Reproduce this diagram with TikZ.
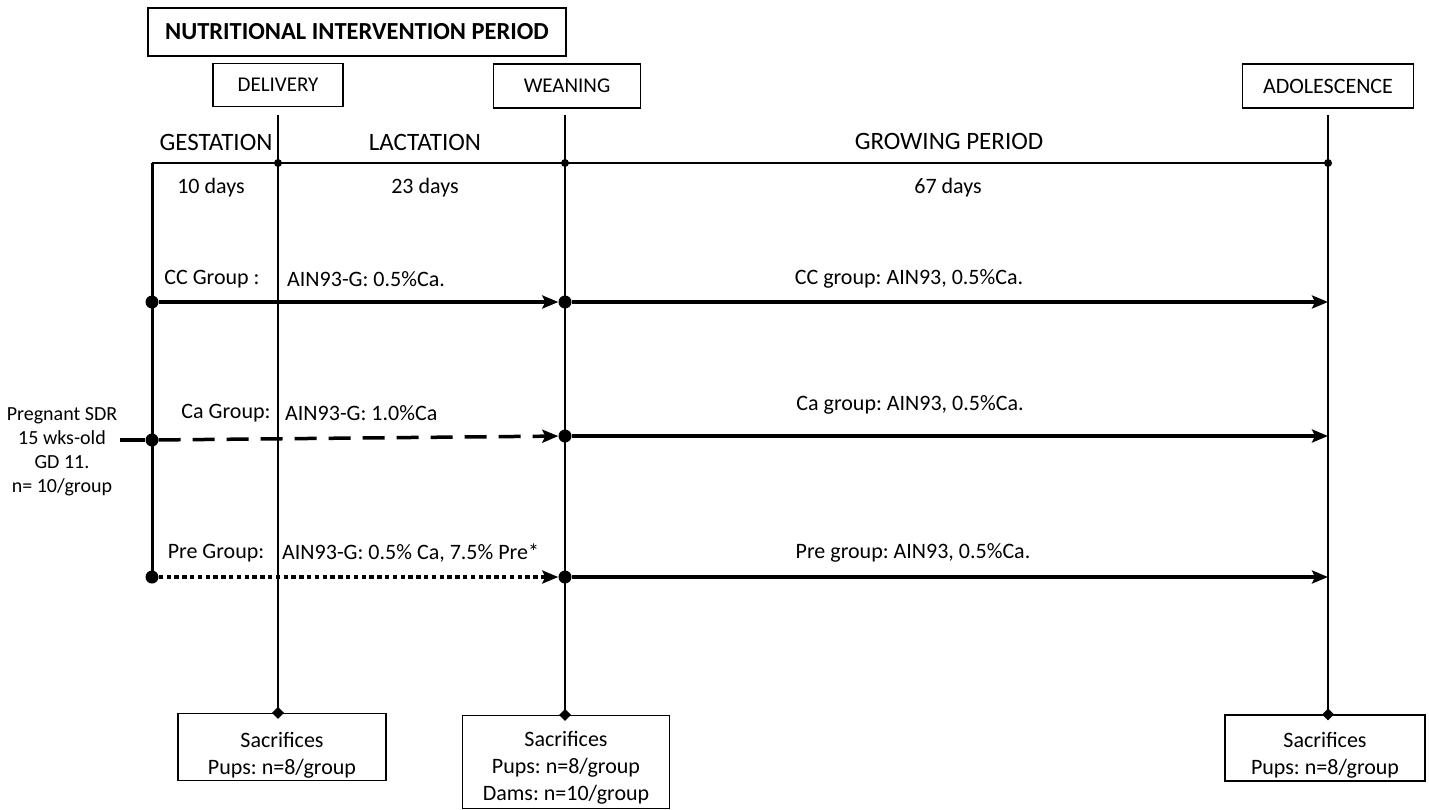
\documentclass[tikz,border=0pt]{standalone}
\usepackage{fontspec}
\setmainfont{Carlito}
\usetikzlibrary{arrows.meta,shapes.geometric}
\frenchspacing
\begin{document}
\begin{tikzpicture}[x=1pt,y=-1pt,
  txt/.style={font=\fontsize{22}{27}\selectfont, inner sep=0pt},
  period/.style={font=\fontsize{25}{28}\selectfont, inner sep=0pt},
  box/.style={draw, line width=1.2pt, font=\fontsize{22}{26.5}\selectfont, inner sep=0pt, align=center},
  vline/.style={line width=1.2pt},
  grp/.style={line width=3.5pt, -{Stealth[length=16pt,width=13pt,inset=3pt]}},
  bigdot/.style={circle, fill, inner sep=0pt, minimum size=13pt},
  smalldot/.style={circle, fill, inner sep=0pt, minimum size=8pt},
  dia/.style={diamond, fill, inner sep=0pt, minimum size=12pt}
]
\useasboundingbox (0,0) rectangle (1429,809);
% header boxes
\node[box, minimum width=418pt, minimum height=48pt, font=\fontsize{24.5}{26}\selectfont\bfseries] (title) at (357,32) {NUTRITIONAL INTERVENTION PERIOD};
\node[box, minimum width=130pt, minimum height=43pt, font=\fontsize{21}{26}\selectfont] (deliv) at (278,85) {DELIVERY};
\node[box, minimum width=147pt, minimum height=44pt, font=\fontsize{21}{26}\selectfont] (wean) at (567,86) {WEANING};
\node[box, minimum width=171pt, minimum height=44pt] (adol) at (1328,86) {ADOLESCENCE};
% bottom boxes
\node[box, minimum width=208pt, minimum height=67pt] (sac1) at (282,747) {};
\node[txt, align=center] (sac1t) at (282,755) {Sacrifices\\Pups: n=8/group};
\node[box, minimum width=207pt, minimum height=93pt] (sac2) at (566,762) {};
\node[txt, align=center] (sac2t) at (566,768) {Sacrifices\\Pups: n=8/group\\Dams: n=10/group};
\node[box, minimum width=200pt, minimum height=66pt] (sac3) at (1325,748) {};
\node[txt, align=center] (sac3t) at (1325,755) {Sacrifices\\Pups: n=8/group};
% coordinates
\coordinate (dtop) at (278,115);
\coordinate (wtop) at (565,115);
\coordinate (atop) at (1328,115);
\coordinate (t0) at (152,163);
\coordinate (t1) at (278,163);
\coordinate (t2) at (565,163);
\coordinate (t3) at (1328,163);
\coordinate (lbot) at (152,578);
% vertical lines
\draw[vline] (dtop) -- (dtop |- sac1.north);
\draw[vline] (wtop) -- (wtop |- sac2.north);
\draw[vline] (atop) -- (atop |- sac3.north);
\node[dia] at (dtop |- sac1.north) {};
\node[dia] at (wtop |- sac2.north) {};
\node[dia] at (atop |- sac3.north) {};
% timeline
\draw[vline] (t0) -- (t3);
\draw[line width=3pt] (t0) -- (lbot);
\node[smalldot] at (t1) {};
\node[smalldot] at (t2) {};
\node[smalldot] at (t3) {};
% period labels
\node[period] (gest) at (216,142) {GESTATION};
\node[period] (lact) at (425,142) {LACTATION};
\node[period] (grow) at (949,141) {GROWING PERIOD};
\node[txt] (d10) at (211,188) {10 days};
\node[txt] (d23) at (425,188) {23 days};
\node[txt] (d67) at (948,188) {67 days};
% group rows
\node[bigdot] (cc0) at (152,302) {};
\node[bigdot] (cc1) at (565,302) {};
\coordinate (cc2) at (1328,302);
\draw[grp] (cc0) -- (cc1);
\draw[grp] (cc1) -- (cc2);
\node[txt] at (212,279) {CC Group :};
\node[txt, anchor=west] at (287,279) {AIN93-G: 0.5\%Ca.};
\node[txt] at (909,279) {CC group: AIN93, 0.5\%Ca.};

\coordinate (preg) at (120,440);
\node[bigdot] (ca0) at (152,440) {};
\node[bigdot] (ca1) at (565,436) {};
\coordinate (ca2) at (1328,436);
\draw[line width=3.5pt] (preg) -- (ca0);
\draw[grp, dash pattern=on 22pt off 12pt] (ca0) -- (ca1);
\draw[grp] (ca1) -- (ca2);
\node[txt] at (226,413) {Ca Group:};
\node[txt, anchor=west] at (285,413) {AIN93-G: 1.0\%Ca};
\node[txt] at (910,405) {Ca group: AIN93, 0.5\%Ca.};

\node[bigdot] (pr0) at (152,577) {};
\node[bigdot] (pr1) at (565,577) {};
\coordinate (pr2) at (1328,577);
\draw[grp, dash pattern=on 4.5pt off 3.3pt] (pr0) -- (pr1);
\draw[grp] (pr1) -- (pr2);
\node[txt] at (216,553) {Pre Group:};
\node[txt, anchor=west] at (282,553) {AIN93-G: 0.5\% Ca, 7.5\% Pre*};
\node[txt] at (913,553) {Pre group: AIN93, 0.5\%Ca.};

\node[txt, align=center, font=\fontsize{20}{24}\selectfont] (pregtxt) at (62,452) {Pregnant SDR\\15 wks-old\\GD 11.\\n= 10/group};
\end{tikzpicture}
\end{document}
